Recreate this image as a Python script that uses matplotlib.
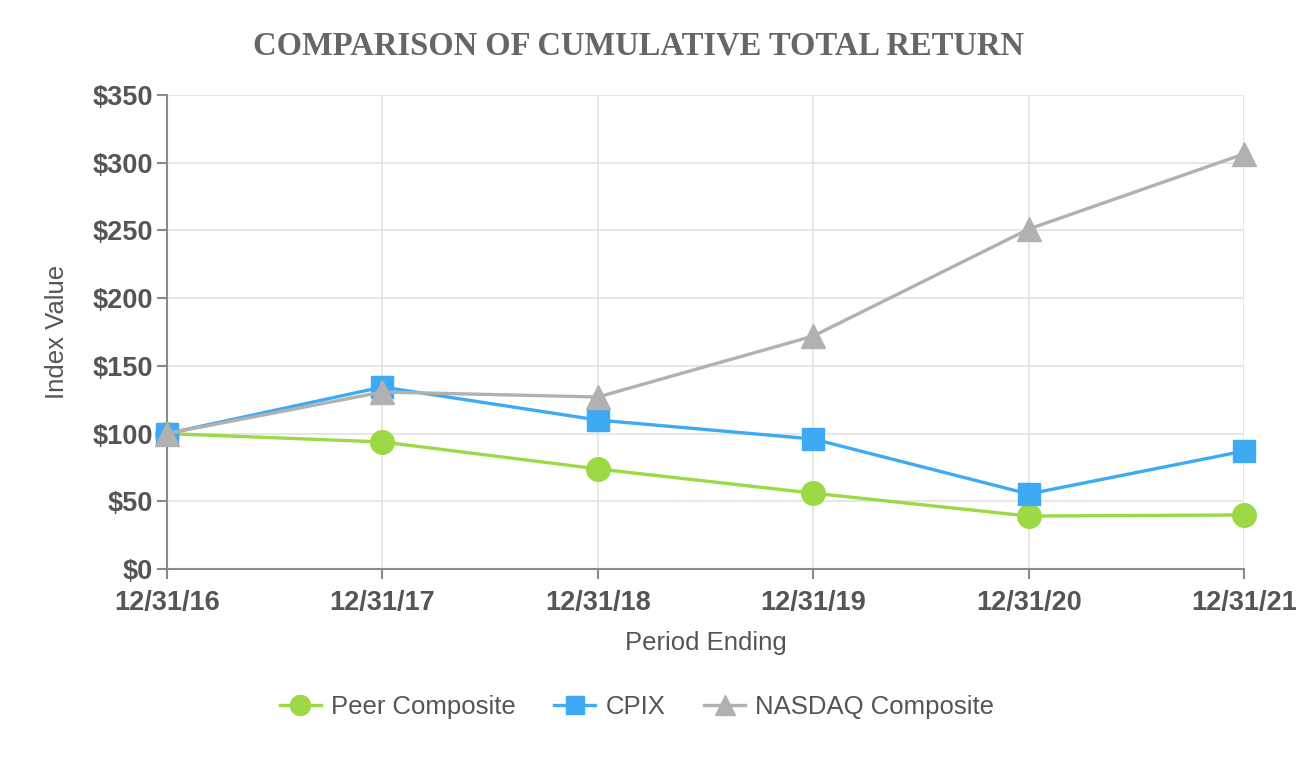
import matplotlib
matplotlib.use("Agg")
import matplotlib.pyplot as plt

periods = ["12/31/16", "12/31/17", "12/31/18", "12/31/19", "12/31/20", "12/31/21"]
peer = [100, 93.8, 73.9, 56.0, 39.1, 39.9]
cpix = [100, 134.4, 110.0, 96.0, 55.4, 87.1]
nasdaq = [100, 130.7, 127.0, 172.0, 251.0, 306.5]

yticks = [0, 50, 100, 150, 200, 250, 300, 350]

GREEN = "#9cd945"
BLUE = "#3eaaf4"
GREY = "#b1b1b1"
TEXT = "#555555"

fig = plt.figure(figsize=(13, 7.6), dpi=100)
ax = fig.add_axes([0.1285, 0.2513, 0.8285, 0.6237])

x = list(range(len(periods)))
ax.plot(x, peer, color=GREEN, lw=2.4, marker="o", ms=17, label="Peer Composite", zorder=3, clip_on=False)
ax.plot(x, cpix, color=BLUE, lw=2.4, marker="s", ms=16, label="CPIX", zorder=4, clip_on=False)
ax.plot(x, nasdaq, color=GREY, lw=2.4, marker="^", ms=17, label="NASDAQ Composite", zorder=5, clip_on=False)

ax.set_xlim(0, len(periods) - 1)
ax.set_ylim(0, 350)
ax.set_xticks(x)
ax.set_xticklabels(periods)
ax.set_yticks(yticks)
ax.set_yticklabels(["$%d" % v for v in yticks])

ax.grid(True, color="#e3e3e3", lw=1.2)
ax.set_axisbelow(True)
for s in ["top", "right"]:
    ax.spines[s].set_visible(False)
for s in ["left", "bottom"]:
    ax.spines[s].set_color("#8a8a8a")
    ax.spines[s].set_linewidth(1.5)
ax.tick_params(axis="both", color="#8a8a8a", width=1.5, length=7,
               labelcolor=TEXT, labelsize=19.5)
ax.tick_params(axis="x", pad=8)
ax.tick_params(axis="y", pad=3)
for lab in ax.get_xticklabels() + ax.get_yticklabels():
    lab.set_fontfamily("Liberation Sans")
    lab.set_fontweight("bold")

ax.set_xlabel("Period Ending", fontsize=18.5, color=TEXT, family="Liberation Sans", labelpad=11)
ax.set_ylabel("Index Value", fontsize=18.5, color=TEXT, family="Liberation Sans", labelpad=17)

fig.text(0.491, 0.94, "COMPARISON OF CUMULATIVE TOTAL RETURN", ha="center", va="center",
         fontsize=23.5, fontweight="bold", family="Liberation Serif", color="#666666")

leg = fig.legend(loc="center", bbox_to_anchor=(0.49, 0.07), ncol=3, frameon=False,
                 prop={"family": "Liberation Sans", "size": 18.5}, markerscale=0.85,
                 handlelength=1.6, columnspacing=1.5, handletextpad=0.4)
for t in leg.get_texts():
    t.set_color(TEXT)

fig.savefig("out.png", dpi=100)
